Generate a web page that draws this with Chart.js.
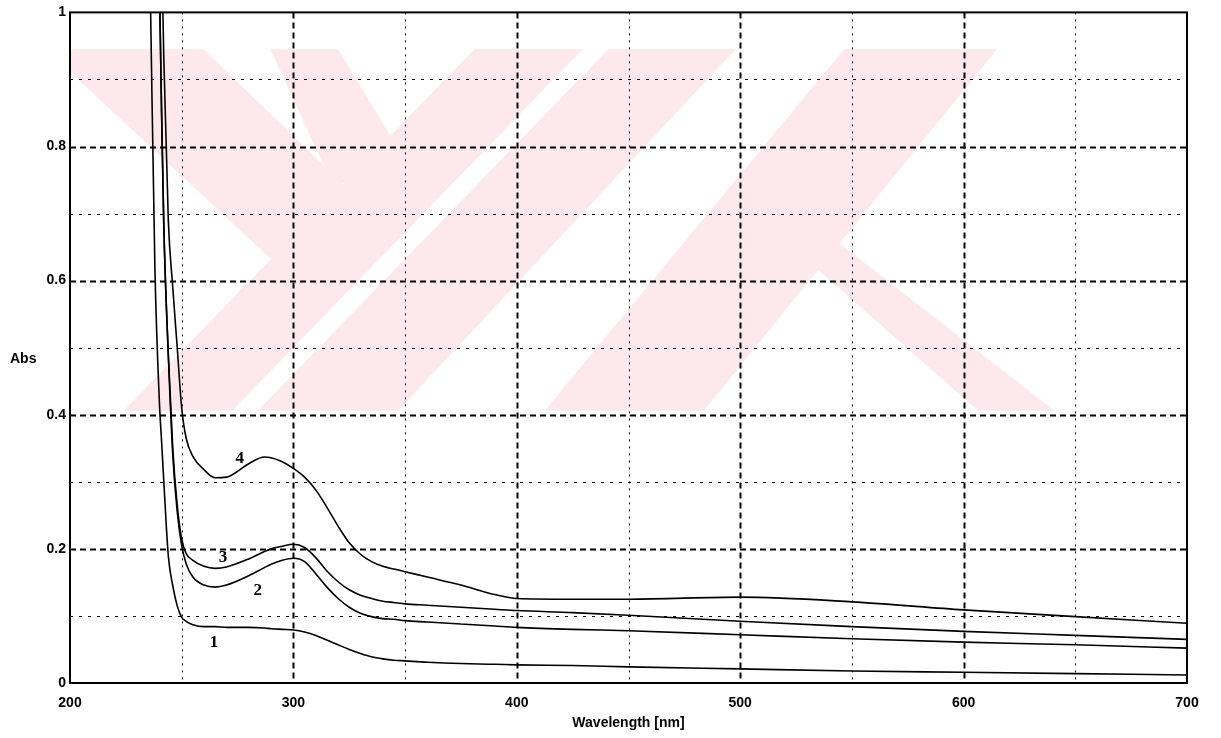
<!DOCTYPE html>
<html>
<head>
<meta charset="utf-8">
<script src="https://cdn.jsdelivr.net/npm/chart.js@4"></script>
<style>
  html, body { margin: 0; padding: 0; background: #fff; }
  #wrap { width: 1221px; height: 738px; }
</style>
</head>
<body>
<div id="wrap"><canvas id="grafico"></canvas></div>
<script>
// comprimentos de onda (nm)
let wavelengths = [236, 238, 240, 241, 242, 244, 246, 248, 250, 252, 255, 260, 265, 270, 280, 287, 290, 295, 300, 305, 310, 315, 320, 325, 330, 335, 340, 345, 350, 360, 375, 390, 400, 425, 450, 500, 550, 600, 650, 700];

// absorbancia de cada amostra
let abs1 = [1.02, 0.62, 0.42, 0.36, 0.30, 0.19, 0.145, 0.115, 0.098, 0.092, 0.087, 0.084, 0.084, 0.083, 0.083, 0.082, 0.081, 0.080, 0.079, 0.076, 0.071, 0.064, 0.057, 0.050, 0.044, 0.039, 0.036, 0.034, 0.033, 0.031, 0.029, 0.028, 0.027, 0.026, 0.024, 0.021, 0.018, 0.016, 0.014, 0.012];
let abs2 = [null, null, 1.05, 0.85, 0.68, 0.49, 0.34, 0.255, 0.205, 0.178, 0.158, 0.146, 0.143, 0.146, 0.160, 0.172, 0.177, 0.183, 0.186, 0.181, 0.163, 0.143, 0.126, 0.113, 0.104, 0.099, 0.096, 0.095, 0.093, 0.091, 0.088, 0.085, 0.083, 0.080, 0.078, 0.072, 0.066, 0.061, 0.057, 0.052];
let abs3 = [null, null, 1.05, 0.85, 0.68, 0.49, 0.35, 0.265, 0.215, 0.193, 0.183, 0.174, 0.171, 0.173, 0.185, 0.196, 0.200, 0.204, 0.207, 0.202, 0.187, 0.167, 0.151, 0.139, 0.131, 0.126, 0.122, 0.120, 0.118, 0.116, 0.113, 0.110, 0.108, 0.105, 0.101, 0.092, 0.084, 0.077, 0.071, 0.065];
let abs4 = [null, null, null, 1.10, 0.93, 0.69, 0.59, 0.50, 0.41, 0.365, 0.338, 0.318, 0.306, 0.307, 0.327, 0.337, 0.336, 0.330, 0.320, 0.307, 0.288, 0.262, 0.234, 0.209, 0.192, 0.181, 0.174, 0.170, 0.166, 0.158, 0.146, 0.132, 0.126, 0.125, 0.125, 0.128, 0.121, 0.109, 0.099, 0.089];

// rotulos das curvas (numero, comprimento de onda, absorbancia)
let curveLabels = ['1', '2', '3', '4'];
let labelX = [264.5, 284, 268.5, 276];
let labelY = [0.060, 0.138, 0.187, 0.334];

let seriesAbs = [abs1, abs2, abs3, abs4];

// marca d'agua rosa do fundo (em unidades dos eixos)
let marcaDagua = [
    [[224, 0.406], [272.6, 0.406], [429.5, 0.945], [381, 0.945]],
    [[284, 0.406], [346.8, 0.406], [498, 0.945], [441, 0.945]],
    [[412.4, 0.406], [483.7, 0.406], [615, 0.945], [546.5, 0.945]],
    [[200, 0.945], [259.7, 0.945], [338.3, 0.693], [289.7, 0.633], [200, 0.911]],
    [[289.7, 0.945], [320, 0.945], [350, 0.78], [318, 0.74]],
    [[520, 0.66], [535, 0.68], [640.7, 0.406], [606.5, 0.406]]
];

// grade: tracejada nos valores principais, pontilhada nos intermediarios
const gradePlugin = {
    id: 'grade',
    beforeDatasetsDraw(chart) {
        const { ctx, chartArea: a, scales: { x, y } } = chart;
        ctx.save();
        ctx.fillStyle = '#fde9ed';
        marcaDagua.forEach(poly => {
            ctx.beginPath();
            poly.forEach((p, i) => {
                const px = x.getPixelForValue(p[0]);
                const py = y.getPixelForValue(p[1]);
                if (i === 0) ctx.moveTo(px, py); else ctx.lineTo(px, py);
            });
            ctx.closePath();
            ctx.fill();
        });
        ctx.strokeStyle = '#000';
        x.ticks.forEach(t => {
            if (t.value <= x.min || t.value >= x.max) return;
            const major = t.value % 100 === 0;
            const px = Math.round(x.getPixelForValue(t.value)) + 0.5;
            ctx.lineWidth = major ? 2 : 1;
            ctx.setLineDash(major ? [6, 4] : [2, 5]);
            ctx.beginPath();
            ctx.moveTo(px, a.top);
            ctx.lineTo(px, a.bottom);
            ctx.stroke();
        });
        y.ticks.forEach(t => {
            if (t.value <= y.min || t.value >= y.max) return;
            const major = Math.round(t.value * 10) % 2 === 0;
            const py = Math.round(y.getPixelForValue(t.value)) + 0.5;
            ctx.lineWidth = major ? 2 : 1;
            ctx.setLineDash(major ? [6, 4] : [3, 6]);
            ctx.beginPath();
            ctx.moveTo(a.left, py);
            ctx.lineTo(a.right, py);
            ctx.stroke();
        });
        ctx.restore();
    },
    afterDatasetsDraw(chart) {
        const { ctx, chartArea: a, scales: { x, y } } = chart;
        ctx.save();
        // moldura
        ctx.setLineDash([]);
        ctx.strokeStyle = '#000';
        ctx.lineWidth = 2;
        ctx.strokeRect(a.left, a.top, a.right - a.left, a.bottom - a.top);
        // numeros das curvas
        ctx.fillStyle = '#000';
        ctx.font = 'bold 17px "Liberation Serif", serif';
        ctx.textAlign = 'center';
        ctx.textBaseline = 'middle';
        curveLabels.forEach((lab, i) => {
            ctx.fillText(lab, x.getPixelForValue(labelX[i]), y.getPixelForValue(labelY[i]));
        });
        // titulos dos eixos
        ctx.font = 'bold 14px "Liberation Sans", Arial, sans-serif';
        ctx.textAlign = 'left';
        ctx.fillText('Abs', 10, (a.top + a.bottom) / 2 + 11);
        ctx.textAlign = 'center';
        ctx.fillText('Wavelength [nm]', (a.left + a.right) / 2, 723);
        ctx.restore();
    }
};

const ctx = document.getElementById('grafico').getContext('2d');
const grafico = new Chart(ctx, {
    type: 'line',
    data: {
        labels: wavelengths,
        datasets: seriesAbs.map(s => ({
            data: s.map((v, i) => ({ x: wavelengths[i], y: v })),
            borderColor: '#000',
            borderWidth: 1.6,
            pointRadius: 0,
            fill: false,
            cubicInterpolationMode: 'monotone'
        }))
    },
    options: {
        responsive: true,
        maintainAspectRatio: false,
        animation: false,
        layout: { padding: { top: 10, right: 34, left: 0, bottom: 0 } },
        plugins: {
            legend: { display: false },
            tooltip: { enabled: false }
        },
        scales: {
            x: {
                type: 'linear',
                min: 200,
                max: 700,
                afterFit: s => { s.height = 55; },
                grid: { display: false, drawTicks: false },
                border: { display: false },
                ticks: {
                    stepSize: 50,
                    maxRotation: 0,
                    autoSkip: false,
                    padding: 12,
                    color: '#000',
                    font: { family: '"Liberation Sans", Arial, sans-serif', size: 14, weight: 'bold' },
                    callback: v => (v % 100 === 0 ? String(v) : '')
                }
            },
            y: {
                min: 0,
                max: 1,
                afterFit: s => { s.width = 70; },
                grid: { display: false, drawTicks: false },
                border: { display: false },
                ticks: {
                    stepSize: 0.1,
                    autoSkip: false,
                    padding: 4,
                    color: '#000',
                    font: { family: '"Liberation Sans", Arial, sans-serif', size: 14, weight: 'bold' },
                    callback: v => (Math.round(v * 10) % 2 === 0 ? String(+v.toFixed(1)) : '')
                }
            }
        }
    },
    plugins: [gradePlugin]
});
</script>
</body>
</html>
